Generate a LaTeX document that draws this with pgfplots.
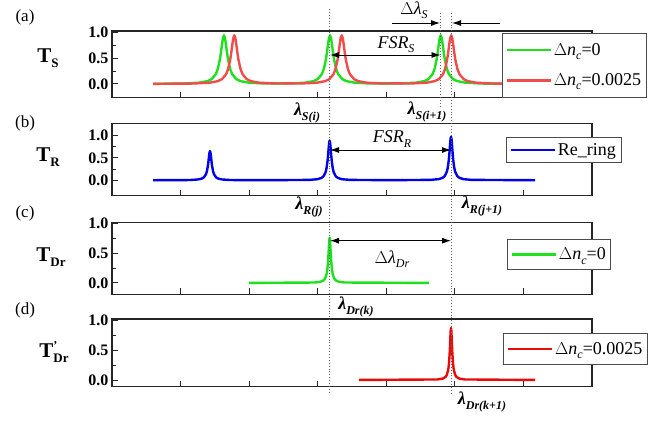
\documentclass[border=0pt]{standalone}
\usepackage{fontspec}
\setmainfont{Liberation Serif}
\usepackage{pgfplots}
\pgfplotsset{compat=1.18}
\usetikzlibrary{arrows.meta}
\definecolor{gA}{RGB}{30,225,30}
\definecolor{rA}{RGB}{242,75,75}
\definecolor{bB}{RGB}{0,0,235}
\definecolor{rD}{RGB}{235,10,10}
\newcommand{\dn}{$\Delta$\textit{n}\raisebox{-0.5ex}{\fontsize{12}{12}\selectfont\textit{c}}}
\newcommand{\lam}[1]{{\bfseries\itshape λ\raisebox{-0.5ex}{\fontsize{12}{12}\selectfont #1}}}
\newcommand{\ylab}[1]{{\fontsize{21}{21}\selectfont\bfseries T\raisebox{-0.5ex}{\fontsize{13}{13}\selectfont #1}}}
\pgfplotsset{
 panel/.style={scale only axis, width=480pt, xmin=0, xmax=7,
  xtick={1,2,3,4,5,6}, xticklabels={}, ytick={0,0.5,1}, minor ytick={0.25,0.75},
  yticklabel style={font=\fontsize{16}{16}\selectfont\bfseries},
  /pgf/number format/assume math mode=true, /pgf/number format/fixed,
  /pgf/number format/fixed zerofill, /pgf/number format/precision=1,
  tick align=inside, xtick pos=bottom, ytick pos=left,
  axis line style={line width=1.3pt, black!85},
  major tick length=6pt, minor tick length=3.5pt,
  tick style={line width=1pt, black!85},
  legend cell align=left,
  legend image code/.code={\draw[##1, line width=2.5pt] (0pt,0pt) -- (44pt,0pt);},
  legend style={draw=black!70, line width=0.8pt, fill=white, font=\fontsize{18}{18}\selectfont,
   inner xsep=3pt, inner ysep=5pt, row sep=8pt, anchor=north west}},
 curve/.style={line width=2.4pt, line join=round}
}
\begin{document}
\begin{tikzpicture}
\path[use as bounding box] (0pt,0pt) rectangle (670pt,421pt);
% (a)
\begin{axis}[panel, at={(112pt,323.3pt)}, anchor=south west, height=66.7pt, ymin=-0.267, ymax=1.033,
 legend style={at={(axis description cs:0.8125,0.97)}, inner ysep=8pt, row sep=13pt}]
\addplot[curve, gA] coordinates {(0.6,0.004)(1.033,0.009)(1.273,0.026)(1.393,0.056)(1.453,0.095)(1.513,0.19)(1.543,0.292)(1.573,0.475)(1.588,0.608)(1.603,0.76)(1.618,0.894)(1.633,0.95)(1.648,0.894)(1.663,0.76)(1.678,0.608)(1.693,0.475)(1.723,0.292)(1.753,0.19)(1.813,0.095)(1.873,0.056)(1.993,0.026)(2.233,0.009)(2.406,0.012)
(2.579,0.009)(2.819,0.026)(2.939,0.056)(2.999,0.095)(3.059,0.19)(3.089,0.292)(3.119,0.475)(3.134,0.608)(3.149,0.76)(3.164,0.894)(3.179,0.95)(3.194,0.894)(3.209,0.76)(3.224,0.608)(3.239,0.475)(3.269,0.292)(3.299,0.19)(3.359,0.095)(3.419,0.056)(3.539,0.026)(3.779,0.009)(3.986,0.012)
(4.194,0.009)(4.434,0.026)(4.554,0.056)(4.614,0.095)(4.674,0.19)(4.704,0.292)(4.734,0.475)(4.749,0.608)(4.764,0.76)(4.779,0.894)(4.794,0.95)(4.809,0.894)(4.824,0.76)(4.839,0.608)(4.854,0.475)(4.884,0.292)(4.914,0.19)(4.974,0.095)(5.034,0.056)(5.154,0.026)(5.394,0.009)(5.8,0.005)};
\addlegendentry{\dn=0}
\addplot[curve, rA] coordinates {(0.6,0.003)(1.184,0.009)(1.424,0.026)(1.544,0.056)(1.604,0.095)(1.664,0.19)(1.694,0.292)(1.724,0.475)(1.739,0.608)(1.754,0.76)(1.769,0.894)(1.784,0.95)(1.799,0.894)(1.814,0.76)(1.829,0.608)(1.844,0.475)(1.874,0.292)(1.904,0.19)(1.964,0.095)(2.024,0.056)(2.144,0.026)(2.384,0.009)(2.567,0.012)
(2.750,0.009)(2.990,0.026)(3.110,0.056)(3.170,0.095)(3.230,0.19)(3.260,0.292)(3.290,0.475)(3.305,0.608)(3.320,0.76)(3.335,0.894)(3.350,0.95)(3.365,0.894)(3.380,0.76)(3.395,0.608)(3.410,0.475)(3.440,0.292)(3.470,0.19)(3.530,0.095)(3.590,0.056)(3.710,0.026)(3.950,0.009)(4.148,0.012)
(4.347,0.009)(4.587,0.026)(4.707,0.056)(4.767,0.095)(4.827,0.19)(4.857,0.292)(4.887,0.475)(4.902,0.608)(4.917,0.76)(4.932,0.894)(4.947,0.95)(4.962,0.894)(4.977,0.76)(4.992,0.608)(5.007,0.475)(5.037,0.292)(5.067,0.19)(5.127,0.095)(5.187,0.056)(5.307,0.026)(5.547,0.009)(5.8,0.006)};
\addlegendentry{\dn=0.0025}
\end{axis}
% (b)
\begin{axis}[panel, at={(112pt,225.3pt)}, anchor=south west, height=72.4pt, ymin=-0.342, ymax=1.267,
 legend style={at={(axis description cs:0.821,0.811)}, inner ysep=4pt}]
\addplot[curve, bB] coordinates {(0.6,0.002)(1.129,0.006)(1.249,0.018)(1.309,0.038)(1.339,0.065)(1.369,0.13)(1.384,0.2)(1.399,0.325)(1.4065,0.416)(1.414,0.52)(1.4215,0.612)(1.429,0.65)(1.4365,0.612)(1.444,0.52)(1.4515,0.416)(1.459,0.325)(1.474,0.2)(1.489,0.13)(1.519,0.065)(1.549,0.038)(1.609,0.018)(1.729,0.006)(2.3,0.003)
(2.874,0.009)(2.994,0.024)(3.054,0.052)(3.084,0.088)(3.114,0.176)(3.129,0.271)(3.144,0.44)(3.1515,0.563)(3.159,0.704)(3.1665,0.828)(3.174,0.88)(3.1815,0.828)(3.189,0.704)(3.1965,0.563)(3.204,0.44)(3.219,0.271)(3.234,0.176)(3.264,0.088)(3.294,0.052)(3.354,0.024)(3.474,0.009)(4.06,0.003)
(4.644,0.0096)(4.764,0.026)(4.824,0.057)(4.854,0.097)(4.884,0.194)(4.899,0.298)(4.914,0.485)(4.9215,0.621)(4.929,0.776)(4.9365,0.913)(4.944,0.97)(4.9515,0.913)(4.959,0.776)(4.9665,0.621)(4.974,0.485)(4.989,0.298)(5.004,0.194)(5.034,0.097)(5.064,0.057)(5.124,0.026)(5.244,0.0096)(6.17,0.002)};
\addlegendentry{Re\_ring}
\end{axis}
% (c)
\begin{axis}[panel, at={(112pt,126.7pt)}, anchor=south west, height=72pt, ymin=-0.19, ymax=1.017,
 legend style={at={(axis description cs:0.823,0.768)}, inner ysep=6.5pt}]
\addplot[curve, gA] coordinates {(2.0,0.001)(2.954,0.0075)(3.042,0.021)(3.086,0.045)(3.108,0.076)(3.130,0.152)(3.141,0.234)(3.152,0.38)(3.1575,0.486)(3.163,0.608)(3.1685,0.715)(3.174,0.76)(3.1795,0.715)(3.185,0.608)(3.1905,0.486)(3.196,0.38)(3.207,0.234)(3.218,0.152)(3.240,0.076)(3.262,0.045)(3.306,0.021)(3.394,0.0075)(4.62,0.001)};
\addlegendentry{\dn=0}
\end{axis}
% (d)
\begin{axis}[panel, at={(112pt,34.3pt)}, anchor=south west, height=67.7pt, ymin=-0.113, ymax=1.029,
 legend style={at={(axis description cs:0.815,0.793)}, inner ysep=7pt}]
\addplot[curve, rD] coordinates {(3.6,0.001)(4.744,0.009)(4.824,0.024)(4.864,0.052)(4.884,0.088)(4.904,0.176)(4.914,0.271)(4.924,0.44)(4.929,0.563)(4.934,0.704)(4.939,0.828)(4.944,0.88)(4.949,0.828)(4.954,0.704)(4.959,0.563)(4.964,0.44)(4.974,0.271)(4.984,0.176)(5.004,0.088)(5.024,0.052)(5.064,0.024)(5.144,0.009)(6.17,0.001)};
\addlegendentry{\dn=0.0025}
\end{axis}
% dotted guide lines
\draw[black!60, dotted, line width=0.9pt] (329.7pt,412pt) -- (329.7pt,28pt);
\draw[black!60, dotted, line width=0.9pt] (440.7pt,408pt) -- (440.7pt,314pt);
\draw[black!60, dotted, line width=0.9pt] (451pt,408pt) -- (451pt,28pt);
% arrows
\tikzset{arr/.style={line width=0.9pt, -{Latex[length=9pt,width=6pt]}}}
\draw[arr] (392pt,398pt) -- (440pt,398pt);
\draw[arr] (500pt,398pt) -- (452pt,398pt);
\draw[line width=0.9pt, {Latex[length=9pt,width=6pt]}-{Latex[length=9pt,width=6pt]}] (330pt,366pt) -- (440.5pt,366pt);
\draw[line width=0.9pt, {Latex[length=9pt,width=6pt]}-{Latex[length=9pt,width=6pt]}] (330pt,271pt) -- (451pt,271pt);
\draw[line width=0.9pt, {Latex[length=9pt,width=6pt]}-{Latex[length=9pt,width=6pt]}] (330pt,180.3pt) -- (451pt,180.3pt);
% text annotations
\node[font=\fontsize{18}{18}\selectfont] at (414pt,411pt) {$\Delta$\textit{λ}\raisebox{-0.5ex}{\fontsize{12}{12}\selectfont\textit{S}}};
\node[font=\fontsize{18}{18}\selectfont\itshape] at (396pt,376pt) {FSR\raisebox{-0.5ex}{\fontsize{12}{12}\selectfont S}};
\node[font=\fontsize{18}{18}\selectfont\itshape] at (392pt,282pt) {FSR\raisebox{-0.5ex}{\fontsize{12}{12}\selectfont R}};
\node[font=\fontsize{18}{18}\selectfont] at (392pt,162pt) {$\Delta$\textit{λ}\raisebox{-0.5ex}{\fontsize{12}{12}\selectfont\textit{Dr}}};
\node[font=\fontsize{18}{18}\selectfont] at (307pt,308pt) {\lam{S(i)}};
\node[font=\fontsize{18}{18}\selectfont] at (427pt,309pt) {\lam{S(i+1)}};
\node[font=\fontsize{18}{18}\selectfont] at (309pt,214pt) {\lam{R(j)}};
\node[font=\fontsize{18}{18}\selectfont] at (482pt,215pt) {\lam{R(j+1)}};
\node[font=\fontsize{18}{18}\selectfont] at (356pt,114pt) {\lam{Dr(k)}};
\node[font=\fontsize{18}{18}\selectfont] at (482pt,19pt) {\lam{Dr(k+1)}};
% panel letters
\node[font=\fontsize{17}{17}\selectfont] at (25pt,404pt) {(a)};
\node[font=\fontsize{17}{17}\selectfont] at (25pt,298pt) {(b)};
\node[font=\fontsize{17}{17}\selectfont] at (25pt,208pt) {(c)};
\node[font=\fontsize{17}{17}\selectfont] at (25pt,111pt) {(d)};
% y labels
\node at (48pt,363pt) {\ylab{S}};
\node at (48pt,264pt) {\ylab{R}};
\node at (51pt,164pt) {\ylab{Dr}};
\node at (54pt,69pt) {{\fontsize{21}{21}\selectfont\bfseries T\rlap{\raisebox{0.85ex}{\fontsize{12}{12}\selectfont '}}\raisebox{-0.5ex}{\fontsize{13}{13}\selectfont Dr}}};
\end{tikzpicture}
\end{document}
